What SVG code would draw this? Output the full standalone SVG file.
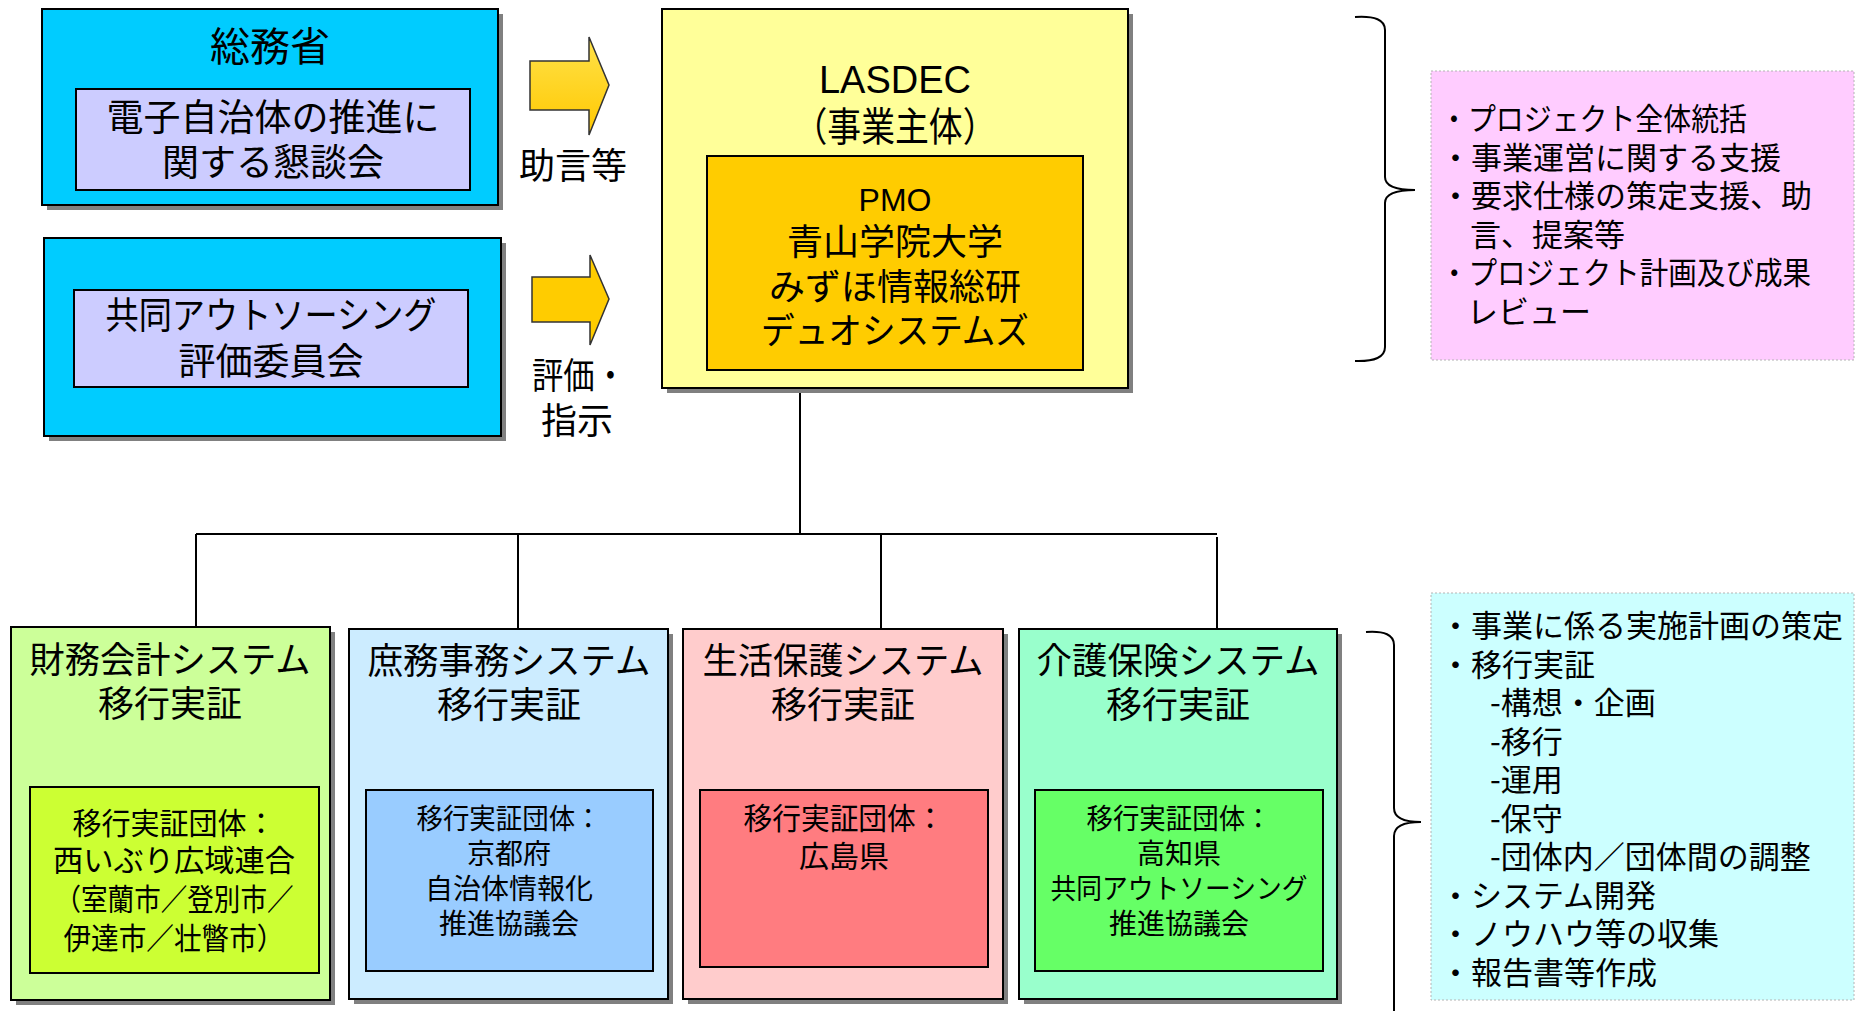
<svg xmlns="http://www.w3.org/2000/svg" width="1856" height="1011" viewBox="0 0 1856 1011">
<defs>
<linearGradient id="gArrow1" x1="0" y1="0" x2="0" y2="1"><stop offset="0" stop-color="#FFE24A"/><stop offset="1" stop-color="#FFC800"/></linearGradient>
</defs>
<style>
.t{font-family:"Noto Sans CJK JP","Noto Sans CJK SC",sans-serif;fill:#000}
.l{font-family:"Liberation Sans","Noto Sans CJK JP",sans-serif;fill:#000}
.c{text-anchor:middle}
.box{stroke:#000;stroke-width:2}
.sh{fill:#808080}
.conn{stroke:#000;stroke-width:2;fill:none}
.note{stroke:#B4B4B4;stroke-width:1;stroke-dasharray:2 2}
.brace{stroke:#000;stroke-width:2;fill:none}
.arrow{stroke:#333;stroke-width:1.5}
</style>
<rect width="1856" height="1011" fill="#fff"/>

<g id="connectors">
<path class="conn" d="M800,387 V534 M196,534 H1217 M196,534 V627 M518,534 V629 M881,534 V629 M1217,537 V629"/>
</g>

<g id="n-soumu">
<rect class="sh" x="47" y="14" width="456" height="196"/>
<rect class="box" x="42" y="9" width="456" height="196" fill="#00CCFF"/>
<text class="t c" x="270" y="61" font-size="40">総務省</text>
<rect class="box" x="76" y="89" width="394" height="101" fill="#CCCCFF"/>
<text class="t c" x="273" y="131" font-size="37">電子自治体の推進に</text>
<text class="t c" x="273" y="176" font-size="37">関する懇談会</text>
</g>

<g id="n-hyouka">
<rect class="sh" x="49" y="243" width="457" height="198"/>
<rect class="box" x="44" y="238" width="457" height="198" fill="#00CCFF"/>
<rect class="box" x="74" y="290" width="394" height="97" fill="#CCCCFF"/>
<text class="t c" x="271" y="329" font-size="37" textLength="331" lengthAdjust="spacingAndGlyphs">共同アウトソーシング</text>
<text class="t c" x="271" y="375" font-size="37">評価委員会</text>
</g>

<g id="arrow-advice">
<polygon class="arrow" fill="url(#gArrow1)" points="530,61 589,61 589,37 609,85 589,135 589,110 530,110"/>
<text class="t" x="519" y="179" font-size="36">助言等</text>
</g>

<g id="arrow-eval">
<polygon class="arrow" fill="#FFCC00" points="532,277 590,277 590,255 609,299 590,345 590,322 532,322"/>
<text class="t" x="532" y="389" font-size="36" textLength="94" lengthAdjust="spacingAndGlyphs">評価・</text>
<text class="t" x="541" y="434" font-size="36">指示</text>
</g>

<g id="n-lasdec">
<rect class="sh" x="667" y="14" width="466" height="379"/>
<rect class="box" x="662" y="9" width="466" height="379" fill="#FFFF99"/>
<text class="l c" x="895" y="93" font-size="38">LASDEC</text>
<text class="t c" x="895" y="141" font-size="40" textLength="203" lengthAdjust="spacingAndGlyphs">（事業主体）</text>
<rect class="box" x="707" y="156" width="376" height="214" fill="#FFCC00"/>
<text class="l c" x="895" y="211" font-size="32">PMO</text>
<text class="t c" x="895" y="255" font-size="36">青山学院大学</text>
<text class="t c" x="895" y="300" font-size="36">みずほ情報総研</text>
<text class="t c" x="895" y="344" font-size="36" textLength="268" lengthAdjust="spacingAndGlyphs">デュオシステムズ</text>
</g>

<g id="note-pmo">
<path class="brace" d="M1355,17 Q1385,15 1385,30 L1385,177 Q1385,190 1415,190 Q1385,190 1385,203 L1385,347 Q1385,362 1355,361"/>
<rect class="note" x="1431" y="71" width="423" height="289" fill="#FFCCFF"/>
<text class="t" x="1440" y="130" font-size="31" textLength="307" lengthAdjust="spacingAndGlyphs">・プロジェクト全体統括</text>
<text class="t" x="1440" y="168.5" font-size="31">・事業運営に関する支援</text>
<text class="t" x="1440" y="207" font-size="31">・要求仕様の策定支援、助</text>
<text class="t" x="1470" y="245.5" font-size="31">言、提案等</text>
<text class="t" x="1440" y="284" font-size="31" textLength="371" lengthAdjust="spacingAndGlyphs">・プロジェクト計画及び成果</text>
<text class="t" x="1467" y="322.5" font-size="31">レビュー</text>
</g>

<g id="n-zaimu">
<rect class="sh" x="16" y="632" width="319" height="373"/>
<rect class="box" x="11" y="627" width="319" height="373" fill="#CCFF99"/>
<text class="t c" x="170" y="673" font-size="36" textLength="281" lengthAdjust="spacingAndGlyphs">財務会計システム</text>
<text class="t c" x="170" y="717" font-size="36">移行実証</text>
<rect class="box" x="30" y="787" width="289" height="186" fill="#CCFF33"/>
<text class="t c" x="174" y="834" font-size="30" textLength="203" lengthAdjust="spacingAndGlyphs">移行実証団体：</text>
<text class="t c" x="174" y="871" font-size="30" textLength="242" lengthAdjust="spacingAndGlyphs">西いぶり広域連合</text>
<text class="t c" x="174" y="910" font-size="30" textLength="239" lengthAdjust="spacingAndGlyphs">（室蘭市／登別市／</text>
<text class="t c" x="174" y="949" font-size="30" textLength="221" lengthAdjust="spacingAndGlyphs">伊達市／壮瞥市）</text>
</g>

<g id="n-shomu">
<rect class="sh" x="354" y="634" width="319" height="370"/>
<rect class="box" x="349" y="629" width="319" height="370" fill="#CCECFF"/>
<text class="t c" x="509" y="674" font-size="36" textLength="283" lengthAdjust="spacingAndGlyphs">庶務事務システム</text>
<text class="t c" x="509" y="718" font-size="36">移行実証</text>
<rect class="box" x="366" y="790" width="287" height="181" fill="#99CCFF"/>
<text class="t c" x="509" y="829" font-size="28" textLength="185" lengthAdjust="spacingAndGlyphs">移行実証団体：</text>
<text class="t c" x="509" y="864" font-size="28">京都府</text>
<text class="t c" x="509" y="899" font-size="28">自治体情報化</text>
<text class="t c" x="509" y="934" font-size="28">推進協議会</text>
</g>

<g id="n-seikatsu">
<rect class="sh" x="688" y="634" width="320" height="370"/>
<rect class="box" x="683" y="629" width="320" height="370" fill="#FFCCCC"/>
<text class="t c" x="843" y="674" font-size="36" textLength="281" lengthAdjust="spacingAndGlyphs">生活保護システム</text>
<text class="t c" x="843" y="718" font-size="36">移行実証</text>
<rect class="box" x="700" y="790" width="288" height="177" fill="#FF7C80"/>
<text class="t c" x="844" y="829" font-size="30" textLength="201" lengthAdjust="spacingAndGlyphs">移行実証団体：</text>
<text class="t c" x="844" y="867" font-size="30">広島県</text>
</g>

<g id="n-kaigo">
<rect class="sh" x="1024" y="634" width="318" height="370"/>
<rect class="box" x="1019" y="629" width="318" height="370" fill="#99FFCC"/>
<text class="t c" x="1178" y="674" font-size="36" textLength="283" lengthAdjust="spacingAndGlyphs">介護保険システム</text>
<text class="t c" x="1178" y="718" font-size="36">移行実証</text>
<rect class="box" x="1035" y="790" width="288" height="181" fill="#66FF66"/>
<text class="t c" x="1179" y="829" font-size="28" textLength="185" lengthAdjust="spacingAndGlyphs">移行実証団体：</text>
<text class="t c" x="1179" y="864" font-size="28">高知県</text>
<text class="t c" x="1179" y="899" font-size="28" textLength="257" lengthAdjust="spacingAndGlyphs">共同アウトソーシング</text>
<text class="t c" x="1179" y="934" font-size="28">推進協議会</text>
</g>

<g id="note-tasks">
<path class="brace" d="M1366,632 Q1394,630 1394,645 L1394,808 Q1394,822 1421,822 Q1394,822 1394,836 L1394,1011"/>
<rect class="note" x="1431" y="593" width="423" height="407" fill="#CCFFFF"/>
<text class="t" x="1440" y="637" font-size="31">・事業に係る実施計画の策定</text>
<text class="t" x="1440" y="675.5" font-size="31">・移行実証</text>
<text class="t" x="1490" y="714" font-size="31">-構想・企画</text>
<text class="t" x="1490" y="752.5" font-size="31">-移行</text>
<text class="t" x="1490" y="791" font-size="31">-運用</text>
<text class="t" x="1490" y="829.5" font-size="31">-保守</text>
<text class="t" x="1490" y="868" font-size="31">-団体内／団体間の調整</text>
<text class="t" x="1440" y="906.5" font-size="31">・システム開発</text>
<text class="t" x="1440" y="945" font-size="31">・ノウハウ等の収集</text>
<text class="t" x="1440" y="983.5" font-size="31">・報告書等作成</text>
</g>
</svg>
